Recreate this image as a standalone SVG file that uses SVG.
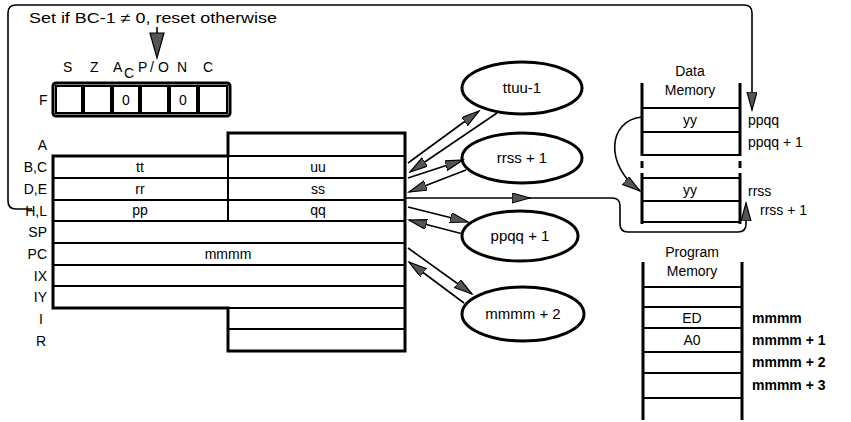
<svg xmlns="http://www.w3.org/2000/svg" width="851" height="422" viewBox="0 0 851 422">
<defs>
<marker id="ah" markerUnits="userSpaceOnUse" markerWidth="20" markerHeight="12" refX="18" refY="5" orient="auto">
<path d="M0,0 L18,5 L0,10 z" fill="#555" stroke="#000" stroke-width="1.2"/>
</marker>
</defs>
<style>
text{font-family:"Liberation Sans",Arial,sans-serif;fill:#000}
.lbl{font-size:14px}
.reg{font-size:14px;text-anchor:middle}
.rl{font-size:14px;text-anchor:end}
.ell{font-size:15px;text-anchor:middle}
.mem{font-size:14px;text-anchor:middle}
.ml{font-size:14px}
.mb{font-size:14px;font-weight:bold}
.thick{fill:none;stroke:#000;stroke-width:3}
.thin{fill:none;stroke:#000;stroke-width:2}
.conn{fill:none;stroke:#000;stroke-width:1.6}
.oval{fill:#fff;stroke:#000;stroke-width:3}
</style>
<rect width="851" height="422" fill="#fff"/>

<g id="caption">
<text class="lbl" x="29" y="23" textLength="248" lengthAdjust="spacingAndGlyphs">Set if BC-1 ≠ 0, reset otherwise</text>
</g>

<g id="flags">
<text class="lbl" x="63" y="72">S</text>
<text class="lbl" x="90" y="72">Z</text>
<text class="lbl" x="113" y="72">A</text>
<text class="lbl" x="124" y="78">C</text>
<text class="lbl" x="138" y="72">P</text>
<text class="lbl" x="150" y="72">/</text>
<text class="lbl" x="158" y="72">O</text>
<text class="lbl" x="177" y="72">N</text>
<text class="lbl" x="203" y="72">C</text>
<text class="lbl" x="39" y="105">F</text>
<rect x="53" y="83" width="177" height="33" rx="3" class="thick"/>
<rect x="56" y="86" width="26" height="27" class="thin" stroke-width="1.5"/>
<rect x="84" y="86" width="27" height="27" class="thin" stroke-width="1.5"/>
<rect x="113" y="86" width="26" height="27" class="thin" stroke-width="1.5"/>
<rect x="141" y="86" width="27" height="27" class="thin" stroke-width="1.5"/>
<rect x="170" y="86" width="27" height="27" class="thin" stroke-width="1.5"/>
<rect x="199" y="86" width="28" height="27" class="thin" stroke-width="1.5"/>
<text class="reg" x="126" y="105">0</text>
<text class="reg" x="183" y="105">0</text>
</g>

<g id="registers">
<path d="M53,156 H228 V133 H405 V351 H228 V308 H53 Z" class="thick"/>
<path d="M228,156 H405 M53,178 H405 M53,200 H405 M53,221 H405 M53,243 H405 M53,265 H405 M53,286 H405 M228,308 H405 M228,329 H405 M228,156 V221" class="thin"/>
<text class="rl" x="47" y="150">A</text>
<text class="rl" x="47" y="172">B,C</text>
<text class="rl" x="47" y="194">D,E</text>
<text class="rl" x="47" y="216">H,L</text>
<text class="rl" x="47" y="237">SP</text>
<text class="rl" x="47" y="259">PC</text>
<text class="rl" x="47" y="281">IX</text>
<text class="rl" x="47" y="302">IY</text>
<text class="rl" x="43" y="324">I</text>
<text class="rl" x="46" y="346">R</text>
<text class="reg" x="140" y="172">tt</text>
<text class="reg" x="318" y="172">uu</text>
<text class="reg" x="140" y="194">rr</text>
<text class="reg" x="318" y="194">ss</text>
<text class="reg" x="140" y="215">pp</text>
<text class="reg" x="318" y="215">qq</text>
<text class="reg" x="228" y="259">mmmm</text>
</g>

<g id="ttuu">
<ellipse cx="522" cy="88" rx="60" ry="26" class="oval"/>
<text class="ell" x="522" y="93">ttuu-1</text>
</g>
<g id="rrss">
<ellipse cx="522" cy="158" rx="60" ry="25" class="oval"/>
<text class="ell" x="522" y="163">rrss + 1</text>
</g>
<g id="ppqq">
<ellipse cx="520" cy="236" rx="58" ry="25" class="oval"/>
<text class="ell" x="520" y="241">ppqq + 1</text>
</g>
<g id="mmmm">
<ellipse cx="523" cy="314" rx="61" ry="27" class="oval"/>
<text class="ell" x="523" y="319">mmmm + 2</text>
</g>

<g id="datamem">
<text class="mem" x="690" y="76">Data</text>
<text class="mem" x="690" y="95">Memory</text>
<path d="M642,83 V156 M642,161 V168 M642,173 V224 M740,83 V156 M740,161 V168 M740,173 V224" class="thick"/>
<path d="M642,108 H740 M642,132 H740 M642,155 H740 M642,178 H740 M642,201 H740 M642,222 H740" class="thin"/>
<text class="mem" x="690" y="125" font-size="13">yy</text>
<text class="mem" x="690" y="195" font-size="13">yy</text>
<text class="ml" x="748" y="125">ppqq</text>
<text class="ml" x="748" y="147">ppqq + 1</text>
<text class="ml" x="748" y="196">rrss</text>
<text class="ml" x="760" y="215">rrss + 1</text>
</g>

<g id="progmem">
<text class="mem" x="692" y="257">Program</text>
<text class="mem" x="692" y="276">Memory</text>
<path d="M643,262 V420 M742,262 V420" class="thick"/>
<path d="M643,287 H742 M643,307 H742 M643,328 H742 M643,352 H742 M643,373 H742 M643,398 H742" class="thin"/>
<text class="mem" x="692" y="323">ED</text>
<text class="mem" x="692" y="345">A0</text>
<text class="mb" x="752" y="323">mmmm</text>
<text class="mb" x="752" y="345">mmmm + 1</text>
<text class="mb" x="752" y="367">mmmm + 2</text>
<text class="mb" x="752" y="390">mmmm + 3</text>
</g>

<g id="connectors">
<path d="M32,209 H16 Q8,209 8,201 V13 Q8,5 16,5 H744 Q752,5 752,13 V110" class="conn" stroke-width="2" marker-end="url(#ah)"/>
<path d="M157,27 V34" class="conn"/>
<polygon points="150,33 164,33 157,58" fill="#555" stroke="#000" stroke-width="1.2"/>
<line x1="408" y1="163" x2="479" y2="111" class="conn" marker-end="url(#ah)"/>
<line x1="497" y1="113" x2="410" y2="172" class="conn" marker-end="url(#ah)"/>
<line x1="408" y1="178" x2="463" y2="160" class="conn" marker-end="url(#ah)"/>
<line x1="466" y1="170" x2="409" y2="192" class="conn" marker-end="url(#ah)"/>
<line x1="406" y1="198" x2="530" y2="198" class="conn" marker-end="url(#ah)"/>
<path d="M528,198 H612 Q620,198 620,206 V224 Q620,232 628,232 H738 Q746,232 746,224 V203" class="conn" marker-end="url(#ah)"/>
<line x1="408" y1="207" x2="468" y2="222" class="conn" marker-end="url(#ah)"/>
<line x1="463" y1="234" x2="409" y2="220" class="conn" marker-end="url(#ah)"/>
<line x1="408" y1="248" x2="472" y2="294" class="conn" marker-end="url(#ah)"/>
<line x1="464" y1="303" x2="409" y2="262" class="conn" marker-end="url(#ah)"/>
<path d="M642,117 C608,120 604,165 640,191" class="conn" stroke-width="2" marker-end="url(#ah)"/>
</g>
</svg>
